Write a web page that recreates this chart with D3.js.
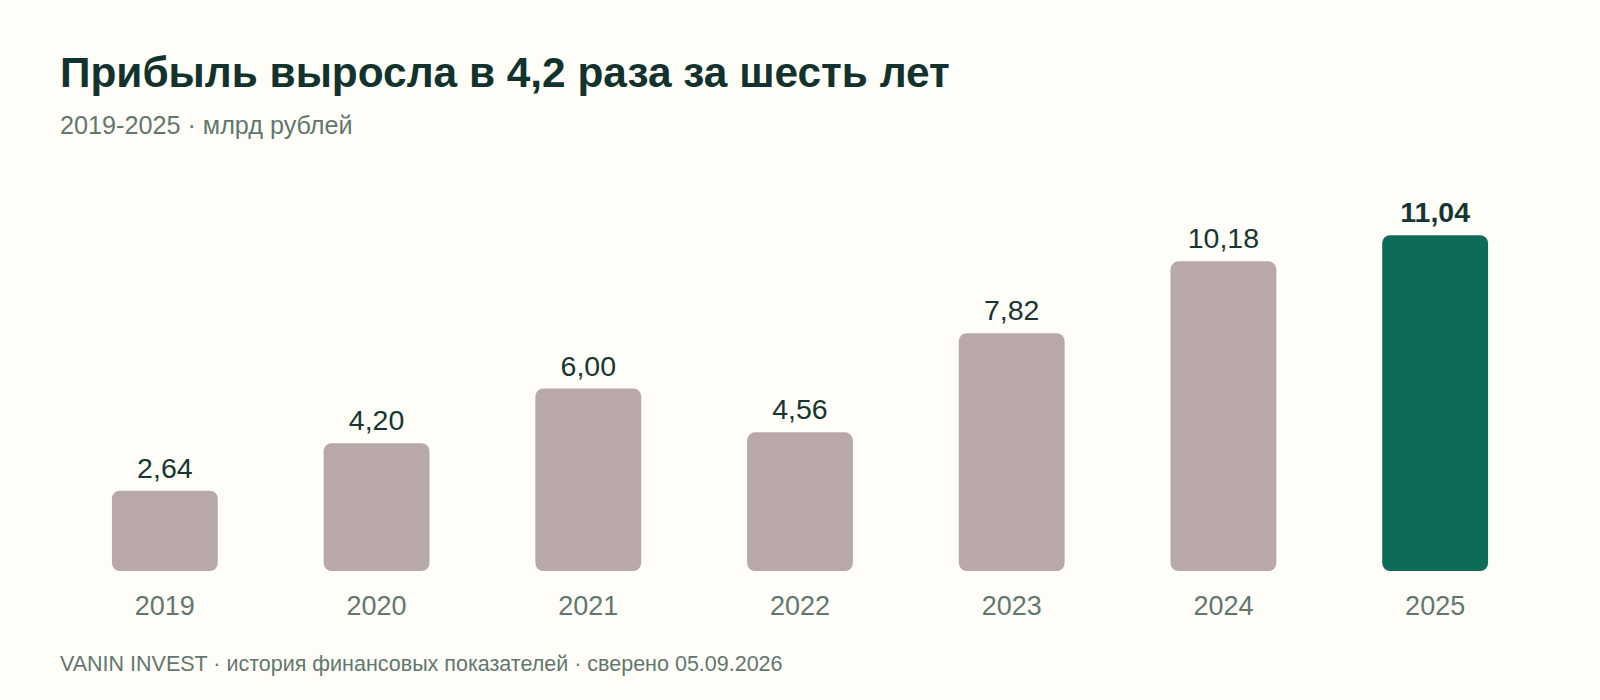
<!DOCTYPE html>
<html>
<head>
<meta charset="utf-8">
<script src="https://cdn.jsdelivr.net/npm/d3@7/dist/d3.min.js"></script>
<style>
  html, body { margin: 0; padding: 0; background: #fefdf8; }
  svg { display: block; }
  text { font-family: "Liberation Sans", Arial, Helvetica, sans-serif; }
</style>
</head>
<body>
<svg id="chart" width="1600" height="700"></svg>
<script>
const years = ["2019", "2020", "2021", "2022", "2023", "2024", "2025"];
const profits = [2.64, 4.20, 6.00, 4.56, 7.82, 10.18, 11.04];
const highlightYear = "2025";
const titleText = "Прибыль выросла в 4,2 раза за шесть лет";
const subtitleText = "2019-2025 · млрд рублей";
const footerText = "VANIN INVEST · история финансовых показателей · сверено 05.09.2026";

const W = 1600, H = 700;
const svg = d3.select("#chart");
svg.append("rect").attr("width", W).attr("height", H).attr("fill", "#fefdf8");

const ru = d3.formatLocale({ decimal: ",", thousands: " ", grouping: [3], currency: ["", " ₽"] });
const fmt = ru.format(".2f");

const x = d3.scaleBand().domain(years).range([59, 1541]).paddingInner(0.5).paddingOuter(0.25);
const y = d3.scaleLinear().domain([0, 12]).range([571, 206]);

svg.append("text").attr("x", 60).attr("y", 87)
  .attr("font-size", 42.4).attr("font-weight", 700).attr("fill", "#12332d")
  .text(titleText);
svg.append("text").attr("x", 60).attr("y", 134)
  .attr("font-size", 25.2).attr("fill", "#62786f")
  .text(subtitleText);

const data = years.map((yr, i) => ({ year: yr, value: profits[i] }));

svg.append("g").selectAll("rect").data(data).join("rect")
  .attr("x", d => x(d.year))
  .attr("width", x.bandwidth())
  .attr("y", d => y(d.value))
  .attr("height", d => y(0) - y(d.value))
  .attr("rx", 8).attr("ry", 8)
  .attr("fill", d => d.year === highlightYear ? "#0f6b59" : "#b8a9a8");

svg.append("g").selectAll("text").data(data).join("text")
  .attr("x", d => x(d.year) + x.bandwidth() / 2)
  .attr("y", d => y(d.value) - 13)
  .attr("text-anchor", "middle")
  .attr("font-size", 28.5)
  .attr("font-weight", d => d.year === highlightYear ? 700 : 400)
  .attr("fill", "#163731")
  .text(d => fmt(d.value));

const xAxis = d3.axisBottom(x).tickSize(0).tickPadding(0);
const gx = svg.append("g").attr("transform", `translate(0,${y(0)})`).call(xAxis);
gx.select(".domain").remove();
gx.selectAll(".tick text")
  .attr("y", 44).attr("dy", 0)
  .attr("font-size", 27)
  .attr("font-family", "\"Liberation Sans\", Arial, sans-serif")
  .attr("fill", "#62786f");

svg.append("text").attr("x", 60).attr("y", 671)
  .attr("font-size", 21.5).attr("fill", "#62786f")
  .text(footerText);
</script>
</body>
</html>
